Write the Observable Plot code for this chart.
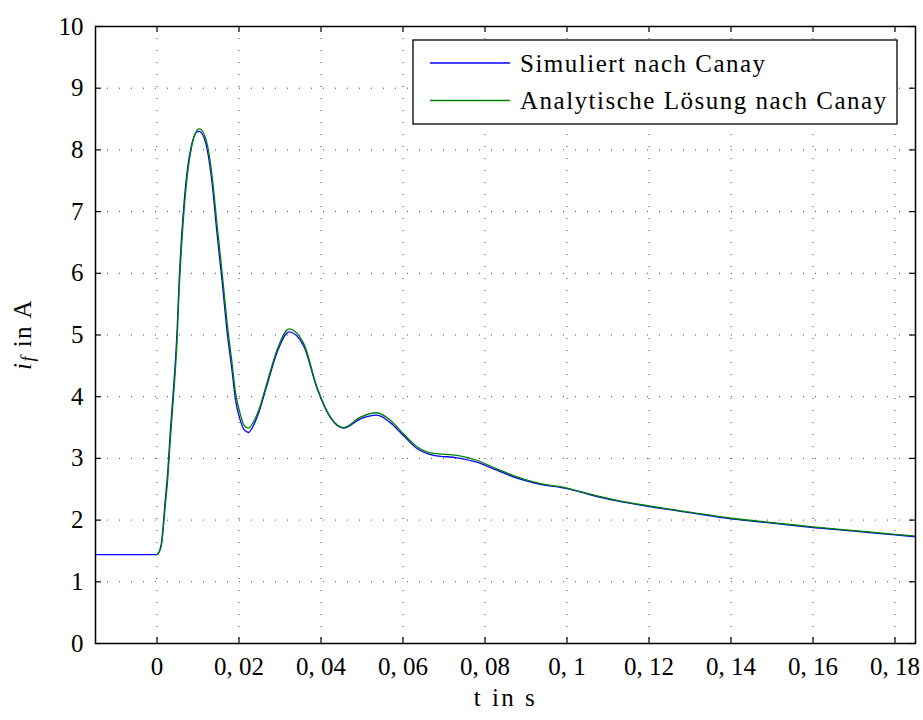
<!DOCTYPE html>
<html>
<head>
<meta charset="utf-8">
<script src="https://cdn.jsdelivr.net/npm/d3@7"></script>
<script src="https://cdn.jsdelivr.net/npm/@observablehq/plot@0.6"></script>
<style>
  html, body { margin: 0; padding: 0; background: #fff; }
  #chart { position: relative; width: 923px; height: 720px; }
  svg { font-family: "Liberation Serif", "DejaVu Serif", serif; }
</style>
</head>
<body>
<div id="chart"></div>
<script>
// ---- data ----
const t = [-0.015, 0, 0.001, 0.002, 0.0027, 0.0032, 0.0038, 0.0049, 0.0054, 0.0061, 0.0071, 0.0083, 0.0097, 0.0103, 0.0118, 0.0134, 0.0146, 0.0159, 0.0171, 0.0183, 0.0191, 0.0203, 0.0212, 0.0223, 0.0235, 0.0248, 0.0268, 0.0293, 0.0322, 0.0358, 0.039, 0.0423, 0.0455, 0.0496, 0.0536, 0.0569, 0.0601, 0.0634, 0.0675, 0.0732, 0.078, 0.0829, 0.0878, 0.0935, 0.1, 0.1057, 0.1122, 0.12, 0.13, 0.14, 0.15, 0.16, 0.17, 0.18, 0.185];
const simuliert = [1.44, 1.44, 1.60, 2.31, 2.85, 3.39, 3.93, 5.07, 5.88, 6.69, 7.50, 8.04, 8.29, 8.30, 8.13, 7.48, 6.67, 5.86, 5.05, 4.42, 3.97, 3.62, 3.47, 3.42, 3.53, 3.74, 4.18, 4.72, 5.05, 4.82, 4.14, 3.66, 3.49, 3.64, 3.70, 3.58, 3.37, 3.16, 3.05, 3.01, 2.94, 2.81, 2.68, 2.58, 2.51, 2.41, 2.31, 2.22, 2.12, 2.02, 1.95, 1.88, 1.82, 1.76, 1.73];
const analytisch = [null, 1.44, 1.56, 2.22, 2.74, 3.26, 3.80, 4.92, 5.72, 6.55, 7.40, 8.00, 8.31, 8.34, 8.20, 7.60, 6.82, 6.00, 5.20, 4.55, 4.09, 3.72, 3.54, 3.49, 3.59, 3.78, 4.22, 4.76, 5.10, 4.86, 4.16, 3.67, 3.50, 3.67, 3.74, 3.62, 3.40, 3.19, 3.08, 3.05, 2.97, 2.83, 2.70, 2.59, 2.52, 2.42, 2.32, 2.23, 2.13, 2.03, 1.96, 1.89, 1.83, 1.77, 1.74];
const seriesNames = ["Simuliert nach Canay", "Analytische Lösung nach Canay"];
const seriesColors = ["#0000ff", "#008000"];
const xTicks = [0, 0.02, 0.04, 0.06, 0.08, 0.1, 0.12, 0.14, 0.16, 0.18];
const xTickLabels = ["0", "0, 02", "0, 04", "0, 06", "0, 08", "0, 1", "0, 12", "0, 14", "0, 16", "0, 18"];
const yTicks = [0, 1, 2, 3, 4, 5, 6, 7, 8, 9, 10];
const yTickLabels = ["0", "1", "2", "3", "4", "5", "6", "7", "8", "9", "10"];
const xLabel = "t in s";

// ---- build ----
const W = 923, H = 720, mL = 95, mR = 8, mT = 26, mB = 77;
const innerW = W - mL - mR, innerH = H - mT - mB;
const sim = t.map((x, i) => ({t: x, v: simuliert[i]}));
const ana = t.map((x, i) => ({t: x, v: analytisch[i]})).filter(d => d.v != null);
const tickLen = 6;
const font = 25;
const FF = '"Liberation Serif", serif';

const plot = Plot.plot({
  width: W, height: H,
  marginLeft: mL, marginRight: mR, marginTop: mT, marginBottom: mB,
  style: {fontFamily: FF, fontSize: font + "px", background: "#fff", color: "#000"},
  x: {domain: [-0.015, 0.185]},
  y: {domain: [0, 10]},
  marks: [
    Plot.gridX(xTicks, {stroke: "#000", strokeOpacity: 0.75, strokeDasharray: "1,11", strokeWidth: 1}),
    Plot.gridY(yTicks, {stroke: "#000", strokeOpacity: 0.75, strokeDasharray: "1,11", strokeWidth: 1}),
    Plot.ruleX(xTicks, {x: d => d, insetTop: innerH - tickLen, stroke: "#000", strokeWidth: 1.2}),
    Plot.ruleX(xTicks, {x: d => d, insetBottom: innerH - tickLen, stroke: "#000", strokeWidth: 1.2}),
    Plot.ruleY(yTicks, {y: d => d, insetRight: innerW - tickLen, stroke: "#000", strokeWidth: 1.2}),
    Plot.ruleY(yTicks, {y: d => d, insetLeft: innerW - tickLen, stroke: "#000", strokeWidth: 1.2}),
    Plot.axisX(xTicks, {tickSize: 0, tickPadding: 14, tickFormat: d => xTickLabels[xTicks.indexOf(d)], fontSize: font, label: null}),
    Plot.axisY(yTicks, {tickSize: 0, tickPadding: 12, tickFormat: d => yTickLabels[yTicks.indexOf(d)], fontSize: font, label: null}),
    Plot.line(sim, {x: "t", y: "v", stroke: seriesColors[0], strokeWidth: 1.3, curve: "monotone-x"}),
    Plot.line(ana, {x: "t", y: "v", stroke: seriesColors[1], strokeWidth: 1.3, curve: "monotone-x"}),
    Plot.text([xLabel], {frameAnchor: "bottom", dy: 62, fontSize: font, text: d => d}),
    Plot.frame({stroke: "#000", strokeWidth: 1.5})
  ]
});
document.getElementById("chart").appendChild(plot);

const svg = d3.select(plot);
// x label letter spacing
svg.selectAll("text").filter(function() { return this.textContent === xLabel; }).style("letter-spacing", "2.5px");

// y label: i_f in A
const yl = svg.append("text")
  .attr("transform", `translate(25,${mT + innerH / 2}) rotate(-90)`)
  .attr("text-anchor", "middle")
  .attr("dominant-baseline", "middle")
  .attr("font-size", font)
  .style("letter-spacing", "1.5px")
  .attr("font-family", FF);
yl.append("tspan").attr("font-style", "italic").text("i");
yl.append("tspan").attr("font-style", "italic").attr("font-size", 18).attr("dy", 5).text("f");
yl.append("tspan").attr("dy", -5).text(" in A");

// legend
const lg = svg.append("g").attr("transform", "translate(413,40)");
lg.append("rect").attr("width", 484).attr("height", 84).attr("fill", "#fff").attr("stroke", "#000").attr("stroke-width", 1.3);
seriesNames.forEach((name, i) => {
  const yy = 23 + i * 37.5;
  lg.append("line").attr("x1", 17).attr("x2", 97).attr("y1", yy).attr("y2", yy)
    .attr("stroke", seriesColors[i]).attr("stroke-width", 1.3);
  lg.append("text").attr("x", 107).attr("y", yy).attr("dy", "0.35em")
    .attr("text-anchor", "start")
    .style("letter-spacing", "1.5px")
    .attr("font-size", font).attr("font-family", FF).text(name);
});
</script>
</body>
</html>
